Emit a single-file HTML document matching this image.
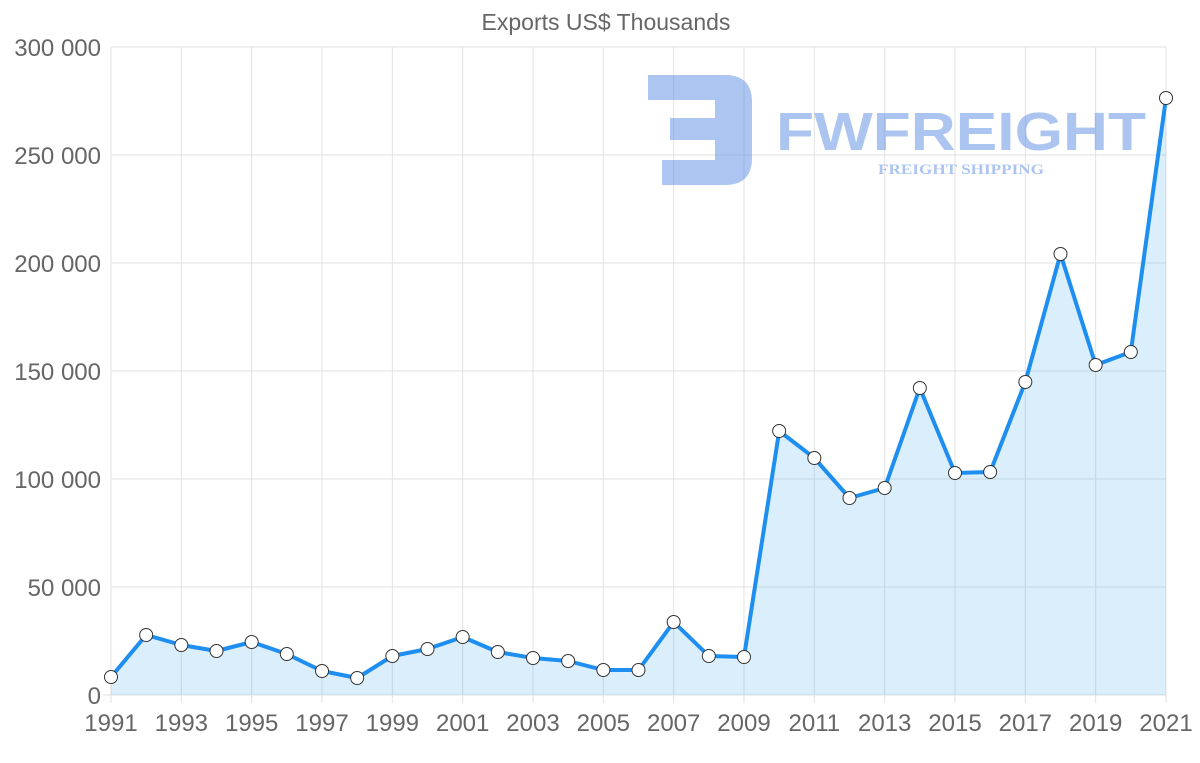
<!DOCTYPE html>
<html><head><meta charset="utf-8"><style>
html,body{margin:0;padding:0;background:#fff;}
svg{display:block;font-family:"Liberation Sans",Arial,sans-serif;}
</style></head><body>
<svg width="1200" height="763" viewBox="0 0 1200 763">
<text x="606" y="30" text-anchor="middle" font-size="23" fill="#666">Exports US$ Thousands</text>
<g stroke="#e2e2e2" stroke-width="1">
<line x1="111" y1="47" x2="1166" y2="47"/>
<line x1="111" y1="155" x2="1166" y2="155"/>
<line x1="111" y1="263" x2="1166" y2="263"/>
<line x1="111" y1="371" x2="1166" y2="371"/>
<line x1="111" y1="479" x2="1166" y2="479"/>
<line x1="111" y1="587" x2="1166" y2="587"/>
<line x1="103" y1="695" x2="1166" y2="695"/>
</g>
<g stroke="#e2e2e2" stroke-width="1" id="vg"></g>
<g font-size="24" fill="#666" text-anchor="end">
<text x="101" y="56">300 000</text>
<text x="101" y="164">250 000</text>
<text x="101" y="272">200 000</text>
<text x="101" y="380">150 000</text>
<text x="101" y="488">100 000</text>
<text x="101" y="596">50 000</text>
<text x="101" y="704">0</text>
</g>
<g id="xl" font-size="24" fill="#666" text-anchor="middle"></g>
<g opacity="0.45" fill="#4a7fe0">
<path d="M648 75 H725 Q752 75 752 102 V158 Q752 185 725 185 H662 V160 H715 V140 H670 V118 H715 V100 H648 Z"/>
<text x="776" y="150" font-size="54" font-weight="bold" textLength="370" lengthAdjust="spacingAndGlyphs">FWFREIGHT</text>
<text x="878" y="174" font-size="15" font-weight="bold" font-family="Liberation Serif,serif" textLength="166" lengthAdjust="spacingAndGlyphs">FREIGHT SHIPPING</text>
</g>
<path id="area" fill="rgba(54,162,235,0.18)"/>
<path id="line" fill="none" stroke="#1e8ff0" stroke-width="4" stroke-linejoin="round"/>
<g id="pts"></g>
</svg>
<script>
var ys=[677,635,645,651,642,654,671,678,656,649,637,652,658,661,670,670,622,656,657,431,458,498,488,388,473,472,382,254,365,352,98];
var ns="http://www.w3.org/2000/svg";
function X(i){return 111+i*1055/30;}
var d="",vg=document.getElementById("vg"),xl=document.getElementById("xl"),pts=document.getElementById("pts");
for(var i=0;i<ys.length;i++){d+=(i?"L":"M")+X(i).toFixed(1)+" "+ys[i];
if(i%2==0){var l=document.createElementNS(ns,"line");l.setAttribute("x1",X(i));l.setAttribute("x2",X(i));l.setAttribute("y1",47);l.setAttribute("y2",703);vg.appendChild(l);
var t=document.createElementNS(ns,"text");t.setAttribute("x",X(i));t.setAttribute("y",731);t.textContent=1991+i;xl.appendChild(t);}}
document.getElementById("line").setAttribute("d",d);
document.getElementById("area").setAttribute("d",d+"L1166 695L111 695Z");
for(var i=0;i<ys.length;i++){var c=document.createElementNS(ns,"circle");c.setAttribute("cx",X(i));c.setAttribute("cy",ys[i]);c.setAttribute("r",6.5);c.setAttribute("fill","#fff");c.setAttribute("stroke","#333");c.setAttribute("stroke-width","1");pts.appendChild(c);}
</script>
</body></html>
